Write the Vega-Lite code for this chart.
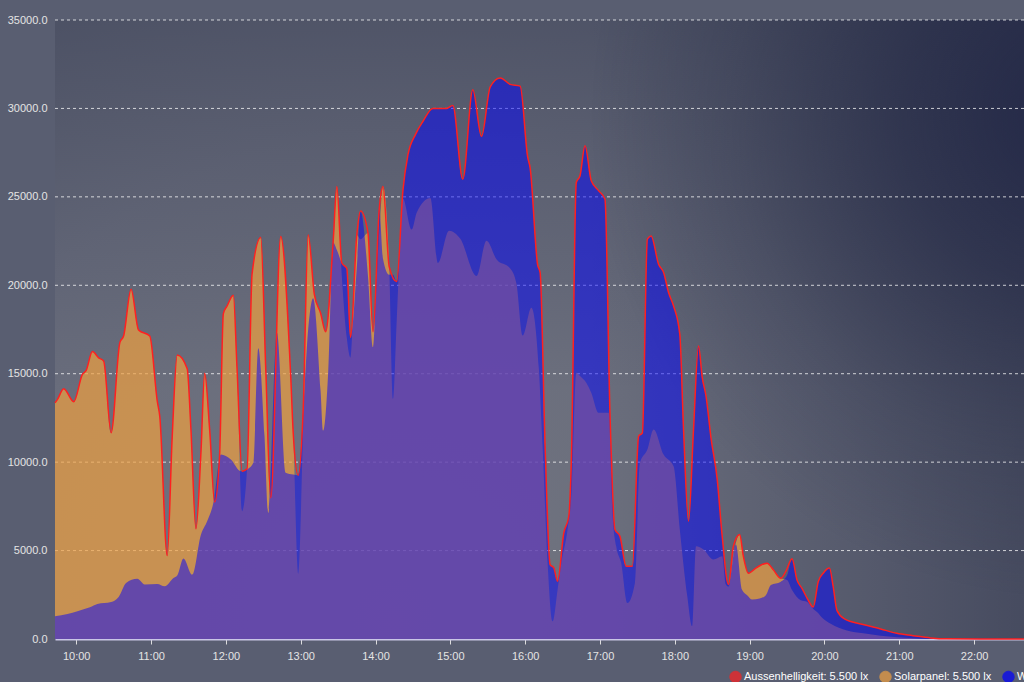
{
  "$schema": "https://vega.github.io/schema/vega-lite/v6.json",
  "autosize": {"type": "none"},
  "padding": {"left": 55, "top": 20, "right": 0, "bottom": 43},
  "width": 969,
  "height": 619,
  "background": "#595e71",
  "config": {"font": "Liberation Sans", "view": {"stroke": null}},
  "layer": [
    {
      "data": {"values": [{}]},
      "mark": {"type": "rect", "color": {"gradient": "radial", "x1": 0.35, "y1": 0.8, "r1": 0, "x2": 0.35, "y2": 0.8, "r2": 1, "stops": [{"offset": 0, "color": "#727580"}, {"offset": 0.5, "color": "#676b7b"}, {"offset": 1, "color": "#4e5466"}]}}
    },
    {
      "data": {"values": [{}]},
      "mark": {"type": "rect", "color": {"gradient": "linear", "x1": 0, "y1": 0, "x2": 0, "y2": 0.6, "stops": [{"offset": 0, "color": "rgba(40,45,70,0.3)"}, {"offset": 1, "color": "rgba(40,45,70,0)"}]}}
    },
    {
      "data": {"values": [{}]},
      "mark": {"type": "rect", "color": {"gradient": "linear", "x1": 0.55, "y1": 0, "x2": 1, "y2": 0, "stops": [{"offset": 0, "color": "rgba(40,45,70,0)"}, {"offset": 1, "color": "rgba(40,45,70,0.45)"}]}}
    },
    {
      "data": {"values": [{}]},
      "mark": {"type": "rect", "color": {"gradient": "radial", "x1": 1.05, "y1": 0.28, "r1": 0, "x2": 1.05, "y2": 0.28, "r2": 0.5, "stops": [{"offset": 0, "color": "rgba(30,35,68,0.8)"}, {"offset": 0.35, "color": "rgba(33,38,68,0.55)"}, {"offset": 0.7, "color": "rgba(38,43,70,0.2)"}, {"offset": 1, "color": "rgba(40,45,72,0)"}]}}
    },
    {
      "data": {"values": [{"v": 5000}, {"v": 10000}, {"v": 15000}, {"v": 20000}, {"v": 25000}, {"v": 30000}, {"v": 35000}]},
      "mark": {"type": "rule", "color": "#ffffff", "strokeDash": [3, 3], "opacity": 0.75, "strokeWidth": 1},
      "encoding": {
        "y": {"field": "v", "type": "quantitative", "scale": {"domain": [0, 35000], "nice": false},
          "axis": {"title": null, "values": [0, 5000, 10000, 15000, 20000, 25000, 30000, 35000], "format": ".1f", "domain": false, "ticks": false, "grid": false, "labelPadding": 8, "labelColor": "#e4e4e4", "labelFontSize": 11}}
      }
    },
    {
      "encoding": {
        "x": {
          "field": "t", "type": "temporal",
          "scale": {"type": "utc", "domain": [-2208953820000, -2208907200000]},
          "axis": {"title": null, "format": "%H:%M", "values": [-2208952800000, -2208949200000, -2208945600000, -2208942000000, -2208938400000, -2208934800000, -2208931200000, -2208927600000, -2208924000000, -2208920400000, -2208916800000, -2208913200000, -2208909600000], "grid": false, "domainColor": "#c9c6e6", "domainWidth": 2, "tickColor": "#dddddd", "tickSize": 5, "labelColor": "#e4e4e4", "labelFontSize": 11, "labelPadding": 6}
        },
        "y": {"field": "v", "type": "quantitative", "scale": {"domain": [0, 35000], "nice": false},
          "axis": {"title": null, "values": [0, 5000, 10000, 15000, 20000, 25000, 30000, 35000], "format": ".1f", "domain": false, "ticks": false, "grid": false, "labelPadding": 8, "labelColor": "#e4e4e4", "labelFontSize": 11}}
      },
      "layer": [
        {
          "data": {"format": {"parse": {"t": "utc:'%H:%M'"}}, "values": [
            {"t": "09:43", "v": 13360}, {"t": "09:45", "v": 13550}, {"t": "09:50", "v": 14150}, {"t": "09:58", "v": 13420},
            {"t": "10:05", "v": 14960}, {"t": "10:08", "v": 15190}, {"t": "10:13", "v": 16250}, {"t": "10:18", "v": 15900},
            {"t": "10:22", "v": 15720}, {"t": "10:28", "v": 11660}, {"t": "10:35", "v": 16760}, {"t": "10:38", "v": 17130},
            {"t": "10:44", "v": 19780}, {"t": "10:50", "v": 17470}, {"t": "10:59", "v": 17130}, {"t": "11:05", "v": 13450},
            {"t": "11:07", "v": 12600}, {"t": "11:13", "v": 4720}, {"t": "11:17", "v": 11470}, {"t": "11:21", "v": 16060},
            {"t": "11:29", "v": 15280}, {"t": "11:32", "v": 11850}, {"t": "11:36", "v": 6230}, {"t": "11:40", "v": 10500},
            {"t": "11:43", "v": 15020}, {"t": "11:47", "v": 11850}, {"t": "11:51", "v": 7740}, {"t": "11:55", "v": 10340},
            {"t": "11:58", "v": 18400}, {"t": "12:01", "v": 18830}, {"t": "12:06", "v": 19440}, {"t": "12:09", "v": 15250},
            {"t": "12:13", "v": 7230}, {"t": "12:17", "v": 9620}, {"t": "12:21", "v": 20620}, {"t": "12:28", "v": 22700},
            {"t": "12:32", "v": 15250}, {"t": "12:36", "v": 7980}, {"t": "12:44", "v": 22760}, {"t": "12:52", "v": 14870},
            {"t": "12:54", "v": 11680}, {"t": "12:58", "v": 3680}, {"t": "13:02", "v": 12000}, {"t": "13:06", "v": 22840},
            {"t": "13:11", "v": 19470}, {"t": "13:16", "v": 18420}, {"t": "13:20", "v": 17370}, {"t": "13:26", "v": 22000},
            {"t": "13:29", "v": 25580}, {"t": "13:33", "v": 20500}, {"t": "13:37", "v": 17000}, {"t": "13:40", "v": 15900},
            {"t": "13:45", "v": 22840}, {"t": "13:48", "v": 22600}, {"t": "13:54", "v": 22950}, {"t": "13:58", "v": 17370},
            {"t": "14:03", "v": 23000}, {"t": "14:06", "v": 25580}, {"t": "14:11", "v": 21050}, {"t": "14:14", "v": 13580},
            {"t": "14:17", "v": 18000}, {"t": "14:22", "v": 24900}, {"t": "14:29", "v": 23150}, {"t": "14:33", "v": 24100},
            {"t": "14:44", "v": 24940}, {"t": "14:50", "v": 21260}, {"t": "14:59", "v": 23090}, {"t": "15:08", "v": 22630},
            {"t": "15:21", "v": 20520}, {"t": "15:29", "v": 22520}, {"t": "15:37", "v": 21470}, {"t": "15:48", "v": 20950},
            {"t": "15:53", "v": 20100}, {"t": "15:58", "v": 17160}, {"t": "16:05", "v": 18730}, {"t": "16:11", "v": 15260},
            {"t": "16:14", "v": 10840}, {"t": "16:18", "v": 4300}, {"t": "16:22", "v": 1000}, {"t": "16:26", "v": 2790},
            {"t": "16:29", "v": 4300}, {"t": "16:34", "v": 6190}, {"t": "16:37", "v": 8080}, {"t": "16:41", "v": 15060},
            {"t": "16:44", "v": 14870}, {"t": "16:49", "v": 14490}, {"t": "16:53", "v": 13930}, {"t": "16:59", "v": 12790},
            {"t": "17:07", "v": 12790}, {"t": "17:10", "v": 7130}, {"t": "17:13", "v": 5250}, {"t": "17:17", "v": 4300},
            {"t": "17:22", "v": 2040}, {"t": "17:28", "v": 3170}, {"t": "17:32", "v": 9960}, {"t": "17:38", "v": 10720},
            {"t": "17:43", "v": 11850}, {"t": "17:51", "v": 10430}, {"t": "17:59", "v": 9770}, {"t": "18:04", "v": 6190},
            {"t": "18:10", "v": 2420}, {"t": "18:14", "v": 720}, {"t": "18:17", "v": 5250}, {"t": "18:23", "v": 5060},
            {"t": "18:31", "v": 4490}, {"t": "18:38", "v": 4680}, {"t": "18:41", "v": 3080}, {"t": "18:43", "v": 2960},
            {"t": "18:47", "v": 4800}, {"t": "18:52", "v": 5910}, {"t": "18:55", "v": 4670}, {"t": "18:59", "v": 3720},
            {"t": "19:05", "v": 4010}, {"t": "19:08", "v": 4140}, {"t": "19:14", "v": 4290}, {"t": "19:19", "v": 3910},
            {"t": "19:25", "v": 3430}, {"t": "19:30", "v": 3340}, {"t": "19:34", "v": 2770}, {"t": "19:41", "v": 2190},
            {"t": "19:46", "v": 2100}, {"t": "19:51", "v": 1700}, {"t": "19:54", "v": 1530}, {"t": "19:59", "v": 1140},
            {"t": "20:05", "v": 860}, {"t": "20:18", "v": 480}, {"t": "20:31", "v": 320}, {"t": "20:45", "v": 190},
            {"t": "20:58", "v": 100}, {"t": "21:11", "v": 40}, {"t": "21:25", "v": 0}, {"t": "22:40", "v": 0}
          ]},
          "mark": {"type": "area", "interpolate": "monotone", "opacity": 0.7},
          "encoding": {"color": {"datum": "Solarpanel", "type": "nominal"}}
        },
        {
          "data": {"format": {"parse": {"t": "utc:'%H:%M'"}}, "values": [
            {"t": "09:43", "v": 1280}, {"t": "09:53", "v": 1415}, {"t": "10:01", "v": 1570}, {"t": "10:11", "v": 1790},
            {"t": "10:17", "v": 1980}, {"t": "10:28", "v": 2095}, {"t": "10:34", "v": 2380}, {"t": "10:40", "v": 3170},
            {"t": "10:49", "v": 3400}, {"t": "10:55", "v": 3080}, {"t": "11:05", "v": 3110}, {"t": "11:11", "v": 2980},
            {"t": "11:18", "v": 3450}, {"t": "11:21", "v": 3590}, {"t": "11:26", "v": 4550}, {"t": "11:33", "v": 3640},
            {"t": "11:40", "v": 5900}, {"t": "11:45", "v": 6660}, {"t": "11:50", "v": 7700}, {"t": "11:56", "v": 10430},
            {"t": "12:04", "v": 10150}, {"t": "12:12", "v": 9490}, {"t": "12:17", "v": 9590}, {"t": "12:22", "v": 9960},
            {"t": "12:26", "v": 16440}, {"t": "12:31", "v": 11470}, {"t": "12:34", "v": 7130}, {"t": "12:41", "v": 17320},
            {"t": "12:48", "v": 9400}, {"t": "12:54", "v": 9300}, {"t": "12:58", "v": 9260}, {"t": "13:02", "v": 12950},
            {"t": "13:06", "v": 17500}, {"t": "13:10", "v": 19260}, {"t": "13:16", "v": 14000}, {"t": "13:18", "v": 11790},
            {"t": "13:22", "v": 15000}, {"t": "13:26", "v": 22420}, {"t": "13:29", "v": 22000}, {"t": "13:33", "v": 21260},
            {"t": "13:37", "v": 20950}, {"t": "13:40", "v": 17050}, {"t": "13:45", "v": 21000}, {"t": "13:48", "v": 24200},
            {"t": "13:54", "v": 20500}, {"t": "13:58", "v": 16500}, {"t": "14:03", "v": 24310}, {"t": "14:06", "v": 21500},
            {"t": "14:11", "v": 20600}, {"t": "14:14", "v": 20600}, {"t": "14:17", "v": 20210}, {"t": "14:22", "v": 25370},
            {"t": "14:26", "v": 27370}, {"t": "14:32", "v": 28520}, {"t": "14:38", "v": 29260}, {"t": "14:46", "v": 30000},
            {"t": "14:57", "v": 30000}, {"t": "15:02", "v": 30170}, {"t": "15:10", "v": 26000}, {"t": "15:18", "v": 31050},
            {"t": "15:25", "v": 28420}, {"t": "15:32", "v": 31220}, {"t": "15:40", "v": 31720}, {"t": "15:48", "v": 31360},
            {"t": "15:56", "v": 31260}, {"t": "16:02", "v": 27260}, {"t": "16:04", "v": 26630}, {"t": "16:10", "v": 21160},
            {"t": "16:12", "v": 20720}, {"t": "16:16", "v": 10900}, {"t": "16:20", "v": 4210}, {"t": "16:23", "v": 4020},
            {"t": "16:26", "v": 3270}, {"t": "16:31", "v": 6000}, {"t": "16:35", "v": 6940}, {"t": "16:37", "v": 9960},
            {"t": "16:41", "v": 25810}, {"t": "16:44", "v": 26190}, {"t": "16:48", "v": 27890}, {"t": "16:53", "v": 25910},
            {"t": "16:59", "v": 25340}, {"t": "17:04", "v": 24870}, {"t": "17:08", "v": 12790}, {"t": "17:12", "v": 6190},
            {"t": "17:16", "v": 5810}, {"t": "17:21", "v": 4110}, {"t": "17:26", "v": 4110}, {"t": "17:31", "v": 11470},
            {"t": "17:34", "v": 11660}, {"t": "17:38", "v": 22610}, {"t": "17:41", "v": 22790}, {"t": "17:47", "v": 21190},
            {"t": "17:51", "v": 20720}, {"t": "17:55", "v": 19590}, {"t": "17:59", "v": 18830}, {"t": "18:04", "v": 17230},
            {"t": "18:07", "v": 11850}, {"t": "18:11", "v": 6660}, {"t": "18:15", "v": 11850}, {"t": "18:19", "v": 16570},
            {"t": "18:22", "v": 14780}, {"t": "18:25", "v": 13740}, {"t": "18:29", "v": 11380}, {"t": "18:34", "v": 9020},
            {"t": "18:38", "v": 5810}, {"t": "18:43", "v": 3080}, {"t": "18:49", "v": 5340}, {"t": "18:54", "v": 2770},
            {"t": "18:58", "v": 2480}, {"t": "19:02", "v": 2230}, {"t": "19:08", "v": 2290}, {"t": "19:13", "v": 2480},
            {"t": "19:17", "v": 3050}, {"t": "19:25", "v": 3240}, {"t": "19:30", "v": 3600}, {"t": "19:34", "v": 4540},
            {"t": "19:38", "v": 3340}, {"t": "19:42", "v": 2860}, {"t": "19:47", "v": 2190}, {"t": "19:51", "v": 1810},
            {"t": "19:55", "v": 3240}, {"t": "19:59", "v": 3720}, {"t": "20:04", "v": 4010}, {"t": "20:07", "v": 2960},
            {"t": "20:10", "v": 1620}, {"t": "20:16", "v": 1140}, {"t": "20:31", "v": 820}, {"t": "20:45", "v": 570},
            {"t": "20:58", "v": 320}, {"t": "21:11", "v": 190}, {"t": "21:25", "v": 60}, {"t": "21:38", "v": 10},
            {"t": "22:40", "v": 0}
          ]},
          "mark": {"type": "area", "interpolate": "monotone", "opacity": 0.5},
          "encoding": {"color": {"datum": "Wetterstation", "type": "nominal"}}
        },
        {
          "data": {"format": {"parse": {"t": "utc:'%H:%M'"}}, "values": [
            {"t": "09:43", "v": 13360}, {"t": "09:45", "v": 13550}, {"t": "09:50", "v": 14150}, {"t": "09:58", "v": 13420},
            {"t": "10:05", "v": 14960}, {"t": "10:08", "v": 15190}, {"t": "10:13", "v": 16250}, {"t": "10:18", "v": 15900},
            {"t": "10:22", "v": 15720}, {"t": "10:28", "v": 11660}, {"t": "10:35", "v": 16760}, {"t": "10:38", "v": 17130},
            {"t": "10:44", "v": 19780}, {"t": "10:50", "v": 17470}, {"t": "10:59", "v": 17130}, {"t": "11:05", "v": 13450},
            {"t": "11:07", "v": 12600}, {"t": "11:13", "v": 4720}, {"t": "11:17", "v": 11470}, {"t": "11:21", "v": 16060},
            {"t": "11:29", "v": 15280}, {"t": "11:32", "v": 11850}, {"t": "11:36", "v": 6230}, {"t": "11:40", "v": 10500},
            {"t": "11:43", "v": 15020}, {"t": "11:47", "v": 11850}, {"t": "11:51", "v": 7740}, {"t": "11:55", "v": 10400},
            {"t": "11:58", "v": 18400}, {"t": "12:01", "v": 18830}, {"t": "12:06", "v": 19440}, {"t": "12:09", "v": 15250},
            {"t": "12:13", "v": 9490}, {"t": "12:17", "v": 9620}, {"t": "12:21", "v": 20620}, {"t": "12:28", "v": 22700},
            {"t": "12:32", "v": 15250}, {"t": "12:36", "v": 7980}, {"t": "12:44", "v": 22760}, {"t": "12:52", "v": 14870},
            {"t": "12:54", "v": 11680}, {"t": "12:58", "v": 9260}, {"t": "13:02", "v": 12950}, {"t": "13:06", "v": 22840},
            {"t": "13:11", "v": 19470}, {"t": "13:16", "v": 18420}, {"t": "13:20", "v": 17370}, {"t": "13:26", "v": 22420},
            {"t": "13:29", "v": 25580}, {"t": "13:33", "v": 21260}, {"t": "13:37", "v": 20950}, {"t": "13:40", "v": 17050},
            {"t": "13:45", "v": 22840}, {"t": "13:48", "v": 24200}, {"t": "13:54", "v": 22950}, {"t": "13:58", "v": 17370},
            {"t": "14:03", "v": 24310}, {"t": "14:06", "v": 25580}, {"t": "14:11", "v": 21050}, {"t": "14:17", "v": 20210},
            {"t": "14:22", "v": 25370}, {"t": "14:26", "v": 27370}, {"t": "14:32", "v": 28520}, {"t": "14:38", "v": 29260},
            {"t": "14:46", "v": 30000}, {"t": "14:57", "v": 30000}, {"t": "15:02", "v": 30170}, {"t": "15:10", "v": 26000},
            {"t": "15:18", "v": 31050}, {"t": "15:25", "v": 28420}, {"t": "15:32", "v": 31220}, {"t": "15:40", "v": 31720},
            {"t": "15:48", "v": 31360}, {"t": "15:56", "v": 31260}, {"t": "16:02", "v": 27260}, {"t": "16:04", "v": 26630},
            {"t": "16:10", "v": 21160}, {"t": "16:12", "v": 20720}, {"t": "16:16", "v": 10900}, {"t": "16:20", "v": 4210},
            {"t": "16:23", "v": 4020}, {"t": "16:26", "v": 3270}, {"t": "16:31", "v": 6000}, {"t": "16:35", "v": 6940},
            {"t": "16:37", "v": 9960}, {"t": "16:41", "v": 25810}, {"t": "16:44", "v": 26190}, {"t": "16:48", "v": 27890},
            {"t": "16:53", "v": 25910}, {"t": "16:59", "v": 25340}, {"t": "17:04", "v": 24870}, {"t": "17:08", "v": 12790},
            {"t": "17:12", "v": 6190}, {"t": "17:16", "v": 5810}, {"t": "17:21", "v": 4110}, {"t": "17:26", "v": 4110},
            {"t": "17:31", "v": 11470}, {"t": "17:34", "v": 11660}, {"t": "17:38", "v": 22610}, {"t": "17:41", "v": 22790},
            {"t": "17:47", "v": 21190}, {"t": "17:51", "v": 20720}, {"t": "17:55", "v": 19590}, {"t": "17:59", "v": 18830},
            {"t": "18:04", "v": 17230}, {"t": "18:07", "v": 11850}, {"t": "18:11", "v": 6660}, {"t": "18:15", "v": 11850},
            {"t": "18:19", "v": 16570}, {"t": "18:22", "v": 14780}, {"t": "18:25", "v": 13740}, {"t": "18:29", "v": 11380},
            {"t": "18:34", "v": 9020}, {"t": "18:38", "v": 5810}, {"t": "18:43", "v": 3080}, {"t": "18:47", "v": 5250},
            {"t": "18:52", "v": 5910}, {"t": "18:55", "v": 4670}, {"t": "18:59", "v": 3720}, {"t": "19:05", "v": 4010},
            {"t": "19:08", "v": 4140}, {"t": "19:14", "v": 4290}, {"t": "19:19", "v": 3910}, {"t": "19:25", "v": 3430},
            {"t": "19:29", "v": 3820}, {"t": "19:34", "v": 4540}, {"t": "19:38", "v": 3340}, {"t": "19:42", "v": 2860},
            {"t": "19:47", "v": 2190}, {"t": "19:51", "v": 1810}, {"t": "19:55", "v": 3240}, {"t": "19:59", "v": 3720},
            {"t": "20:04", "v": 4010}, {"t": "20:07", "v": 2960}, {"t": "20:10", "v": 1620}, {"t": "20:16", "v": 1140},
            {"t": "20:31", "v": 820}, {"t": "20:45", "v": 570}, {"t": "20:58", "v": 320}, {"t": "21:11", "v": 190},
            {"t": "21:25", "v": 60}, {"t": "21:38", "v": 10}, {"t": "22:40", "v": 0}
          ]},
          "mark": {"type": "line", "interpolate": "monotone", "strokeWidth": 1.5},
          "encoding": {
            "color": {
              "datum": "Aussenhelligkeit", "type": "nominal",
              "scale": {"domain": ["Aussenhelligkeit", "Solarpanel", "Wetterstation"], "range": ["#ff2020", "#f0a040", "#0000ff"]},
              "legend": {
                "title": null, "orient": "none", "direction": "horizontal", "legendX": 674, "legendY": 650,
                "columnPadding": 8, "symbolType": "circle", "symbolSize": 130,
                "symbolStrokeColor": "#ffffff", "symbolStrokeWidth": 1, "symbolOpacity": 1,
                "labelColor": "#ffffff", "labelFontSize": 11, "labelOffset": 2, "labelLimit": 300,
                "labelExpr": "datum.label + ': 5.500 lx'"
              }
            }
          }
        }
      ]
    }
  ]
}
